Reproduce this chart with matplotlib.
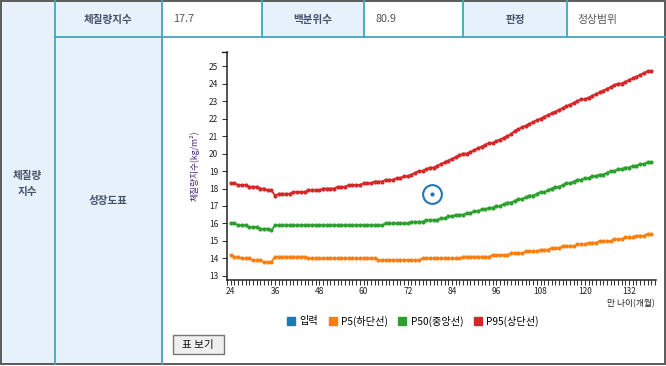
import matplotlib
matplotlib.use('Agg')
import matplotlib.pyplot as plt
from matplotlib.patches import Rectangle
from matplotlib.lines import Line2D

plt.rcParams['font.family'] = ['Noto Sans CJK KR', 'DejaVu Sans']

# ---------------- data ----------------
months = list(range(24, 139))
p5 = [14.2, 14.1, 14.1, 14.0, 14.0, 14.0, 13.9, 13.9, 13.9, 13.8, 13.8, 13.8,          # 24-35
      14.1, 14.1, 14.1, 14.1, 14.1, 14.1, 14.1, 14.1, 14.1, 14.0, 14.0, 14.0,          # 36-47
      14.0, 14.0, 14.0, 14.0, 14.0, 14.0, 14.0, 14.0, 14.0, 14.0, 14.0, 14.0,          # 48-59
      14.0, 14.0, 14.0, 14.0, 13.9, 13.9, 13.9, 13.9, 13.9, 13.9, 13.9, 13.9,          # 60-71
      13.9, 13.9, 13.9, 13.9, 14.0, 14.0, 14.0, 14.0, 14.0, 14.0, 14.0, 14.0,          # 72-83
      14.0, 14.0, 14.0, 14.1, 14.1, 14.1, 14.1, 14.1, 14.1, 14.1, 14.1, 14.2,          # 84-95
      14.2, 14.2, 14.2, 14.2, 14.3, 14.3, 14.3, 14.3, 14.4, 14.4, 14.4, 14.4,          # 96-107
      14.5, 14.5, 14.5, 14.6, 14.6, 14.6, 14.7, 14.7, 14.7, 14.7, 14.8, 14.8,          # 108-119
      14.8, 14.9, 14.9, 14.9, 15.0, 15.0, 15.0, 15.0, 15.1, 15.1, 15.1, 15.2,          # 120-131
      15.2, 15.2, 15.3, 15.3, 15.3, 15.4, 15.4]                                        # 132-138
p50 = [16.0, 16.0, 15.9, 15.9, 15.9, 15.8, 15.8, 15.8, 15.7, 15.7, 15.7, 15.6,         # 24-35
       15.9, 15.9, 15.9, 15.9, 15.9, 15.9, 15.9, 15.9, 15.9, 15.9, 15.9, 15.9,         # 36-47
       15.9, 15.9, 15.9, 15.9, 15.9, 15.9, 15.9, 15.9, 15.9, 15.9, 15.9, 15.9,         # 48-59
       15.9, 15.9, 15.9, 15.9, 15.9, 15.9, 16.0, 16.0, 16.0, 16.0, 16.0, 16.0,         # 60-71
       16.0, 16.1, 16.1, 16.1, 16.1, 16.2, 16.2, 16.2, 16.2, 16.3, 16.3, 16.4,         # 72-83
       16.4, 16.5, 16.5, 16.5, 16.6, 16.6, 16.7, 16.7, 16.8, 16.8, 16.9, 16.9,         # 84-95
       17.0, 17.0, 17.1, 17.2, 17.2, 17.3, 17.4, 17.4, 17.5, 17.6, 17.6, 17.7,         # 96-107
       17.8, 17.8, 17.9, 18.0, 18.1, 18.1, 18.2, 18.3, 18.3, 18.4, 18.5, 18.5,         # 108-119
       18.6, 18.6, 18.7, 18.7, 18.8, 18.8, 18.9, 19.0, 19.0, 19.1, 19.1, 19.2,         # 120-131
       19.2, 19.3, 19.3, 19.4, 19.4, 19.5, 19.5]                                       # 132-138
p95 = [18.3, 18.3, 18.2, 18.2, 18.2, 18.1, 18.1, 18.1, 18.0, 18.0, 17.9, 17.9,         # 24-35
       17.6, 17.7, 17.7, 17.7, 17.7, 17.8, 17.8, 17.8, 17.8, 17.9, 17.9, 17.9,         # 36-47
       17.9, 18.0, 18.0, 18.0, 18.0, 18.1, 18.1, 18.1, 18.2, 18.2, 18.2, 18.2,         # 48-59
       18.3, 18.3, 18.3, 18.4, 18.4, 18.4, 18.5, 18.5, 18.5, 18.6, 18.6, 18.7,         # 60-71
       18.7, 18.8, 18.9, 19.0, 19.0, 19.1, 19.2, 19.2, 19.3, 19.4, 19.5, 19.6,         # 72-83
       19.7, 19.8, 19.9, 20.0, 20.0, 20.1, 20.2, 20.3, 20.4, 20.5, 20.6, 20.6,         # 84-95
       20.7, 20.8, 20.9, 21.0, 21.1, 21.3, 21.4, 21.5, 21.6, 21.7, 21.8, 21.9,         # 96-107
       22.0, 22.1, 22.2, 22.3, 22.4, 22.5, 22.6, 22.7, 22.8, 22.9, 23.0, 23.1,         # 108-119
       23.1, 23.2, 23.3, 23.4, 23.5, 23.6, 23.7, 23.8, 23.9, 24.0, 24.0, 24.1,         # 120-131
       24.2, 24.3, 24.4, 24.5, 24.6, 24.7, 24.7]                                       # 132-138
input_age = 78.6
input_bmi = 17.7
percentile = 80.9
judgement = '정상범위'
x_label_ticks = [24, 36, 48, 60, 72, 84, 96, 108, 120, 132]
y_ticks = [13, 14, 15, 16, 17, 18, 19, 20, 21, 22, 23, 24, 25]
legend_labels = ['입력', 'P5(하단선)', 'P50(중앙선)', 'P95(상단선)']
colors = ['#1f77b4', '#ff7f0e', '#2ca02c', '#d62728']

# ---------------- figure / table ----------------
W, H = 666, 366
fig = plt.figure(figsize=(W / 100, H / 100), dpi=100)
bg = fig.add_axes([0, 0, 1, 1])
bg.set_xlim(0, W)
bg.set_ylim(H, 0)
bg.axis('off')

head_bg = '#e6f1fc'
teal = '#3fa8b8'
head_txt = '#45536a'
val_txt = '#555555'
BOT = 363.5

for (x0, y0, x1, y1) in [(0, 0, 55, BOT), (55, 0, 162, 37), (262, 0, 364, 37),
                         (463, 0, 567, 37), (55, 37, 162, BOT)]:
    bg.add_patch(Rectangle((x0, y0), x1 - x0, y1 - y0, facecolor=head_bg, edgecolor='none'))

for x in [55, 162]:
    bg.add_line(Line2D([x, x], [0, BOT], color=teal, lw=1.3))
for x in [262, 364, 463, 567]:
    bg.add_line(Line2D([x, x], [0, 37], color=teal, lw=1.3))
bg.add_line(Line2D([55, 665], [37, 37], color=teal, lw=1.3))
bg.add_patch(Rectangle((0.7, 0.7), 664.6, BOT - 0.7, facecolor='none', edgecolor='#5a5a5a', lw=1.4))

hkw = dict(ha='center', va='center', fontsize=7.6, color=head_txt, fontweight='bold')
vkw = dict(ha='left', va='center', fontsize=7.8, color=val_txt)
bg.text(108.5, 19.5, '체질량지수', **hkw)
bg.text(173, 19.5, f'{input_bmi}', **vkw)
bg.text(313, 19.5, '백분위수', **hkw)
bg.text(375, 19.5, f'{percentile}', **vkw)
bg.text(515, 19.5, '판정', **hkw)
bg.text(577, 19.5, judgement, **vkw)
bg.text(27.5, 184, '체질량\n지수', linespacing=1.75, **hkw)
bg.text(108.5, 201, '성장도표', **hkw)

# button
bg.add_patch(Rectangle((172.5, 335), 51, 19.3, facecolor='#efefef', edgecolor='#767676', lw=1.0))
bg.text(198, 344.8, '표 보기', ha='center', va='center', fontsize=7.6, color='#111111')

# ---------------- chart ----------------
L, R, T, B = 226.7, 656, 51.7, 280
ax = fig.add_axes([L / W, 1 - B / H, (R - L) / W, (B - T) / H])
ax.set_xlim(22.9, 139.3)
ax.set_ylim(12.77, 25.82)
ax.patch.set_alpha(0)

for series, c in zip([p5, p50, p95], colors[1:]):
    ax.plot(months, series, color=c, lw=1.3, marker='o', ms=3.0, mew=0, zorder=3)

ax.plot([input_age], [input_bmi], 'o', ms=13.5, mfc='none', mec=colors[0], mew=1.5, zorder=4)
ax.plot([input_age], [input_bmi], 'o', ms=3.0, color=colors[0], mew=0, zorder=4)

for s in ['top', 'right']:
    ax.spines[s].set_visible(False)
for s in ['left', 'bottom']:
    ax.spines[s].set_linewidth(1.1)
    ax.spines[s].set_color('#222222')

ax.set_yticks(y_ticks)
ax.set_yticklabels([str(v) for v in y_ticks])
ax.set_xticks(x_label_ticks)
ax.set_xticklabels([str(v) for v in x_label_ticks])
ax.set_xticks(list(range(23, 140)), minor=True)
ax.tick_params(axis='both', which='both', length=3.6, width=0.75, color='#333333',
               labelsize=6.0, labelcolor='#222222')
ax.tick_params(axis='y', pad=2.5)
ax.tick_params(axis='x', pad=1.8)

# outer tick at top of y-axis
bg.add_line(Line2D([L - 5, L], [T, T], color='#222222', lw=1.0))

bg.text(194.5, 165.5, '체질량지수(kg/m²)', rotation=90, ha='center', va='center',
        fontsize=6.3, color='#4a2a7a')
bg.text(655, 304, '만 나이(개월)', ha='right', va='center', fontsize=6.3, color='#222222')

# legend
handles = [Line2D([], [], marker='s', ls='none', ms=6.2, color=c) for c in colors]
fig.legend(handles, legend_labels, loc='center', bbox_to_anchor=(413 / W, 1 - 321 / H),
           ncol=4, frameon=False, fontsize=7.3, handlelength=0.8, handletextpad=0.45,
           columnspacing=1.0, borderpad=0)

fig.savefig('out.png', dpi=100)
